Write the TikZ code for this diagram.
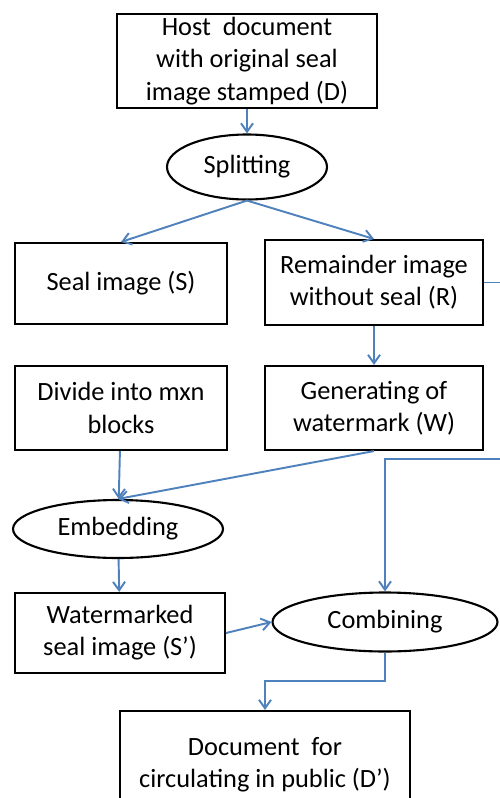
\documentclass[tikz,border=0pt]{standalone}
\usepackage{fontspec}
\setmainfont{Carlito}
\usetikzlibrary{arrows.meta,shapes.geometric}
\definecolor{flowblue}{RGB}{79,129,189}
\begin{document}
\begin{tikzpicture}[x=0.02cm,y=-0.02cm,
  box node/.style={rectangle,draw,line width=1.2pt,align=center,inner sep=0pt,
    font=\fontsize{15}{18.3}\selectfont},
  oval node/.style={ellipse,draw,line width=1.2pt,inner sep=0pt,
    font=\fontsize{15}{18.3}\selectfont},
  flow/.style={draw=flowblue,line width=1.1pt,-{Straight Barb[length=1.7mm,width=2.4mm]}}]

  \useasboundingbox (0,0) rectangle (500,798);

  \node[box node,minimum width=5.2cm,minimum height=1.88cm] (D) at (247,61)
    {Host~ document\\with original seal\\image stamped (D)};
  \node[oval node,minimum width=3.2cm,minimum height=1.3cm] (split) at (247,167) {Splitting};
  \node[box node,minimum width=4.24cm,minimum height=1.62cm] (S) at (121,283.5) {Seal image (S)};
  \node[box node,minimum width=4.36cm,minimum height=1.7cm] (R) at (374,282.5)
    {Remainder image\\without seal (R)};
  \node[box node,minimum width=4.24cm,minimum height=1.68cm] (div) at (121,408)
    {Divide into mxn\\blocks};
  \node[box node,minimum width=4.36cm,minimum height=1.68cm] (W) at (374,408)
    {Generating of\\watermark (W)};
  \node[oval node,minimum width=4.2cm,minimum height=1.16cm] (embed) at (118,529) {Embedding};
  \node[box node,minimum width=4.2cm,minimum height=1.6cm] (Sp) at (120,633)
    {Watermarked\\seal image (S’)};
  \node[oval node,minimum width=4.5cm,minimum height=1.18cm] (comb) at (385,622) {Combining};
  \node[box node,minimum width=5.8cm,minimum height=2.16cm] (Dp) at (265,765)
    {Document~ for\\circulating in public (D’)};
  \coordinate (turn) at (385,459);

  \path
   (D) edge[flow] (split)
   (split.south) edge[flow] (S.north)
   (split.south) edge[flow] (R.north)
   (R) edge[flow] (W)
   (div) edge[flow] (embed)
   (W.south) edge[flow] (embed.north)
   (embed) edge[flow] (Sp)
   (Sp.east) edge[flow] (comb.west);
  \draw[flow] (R.east) -- ++(40,0) |- (turn) -- (comb.north);
  \draw[flow] (comb.south) -- ++(0,28) -| (Dp.north);
\end{tikzpicture}
\end{document}
